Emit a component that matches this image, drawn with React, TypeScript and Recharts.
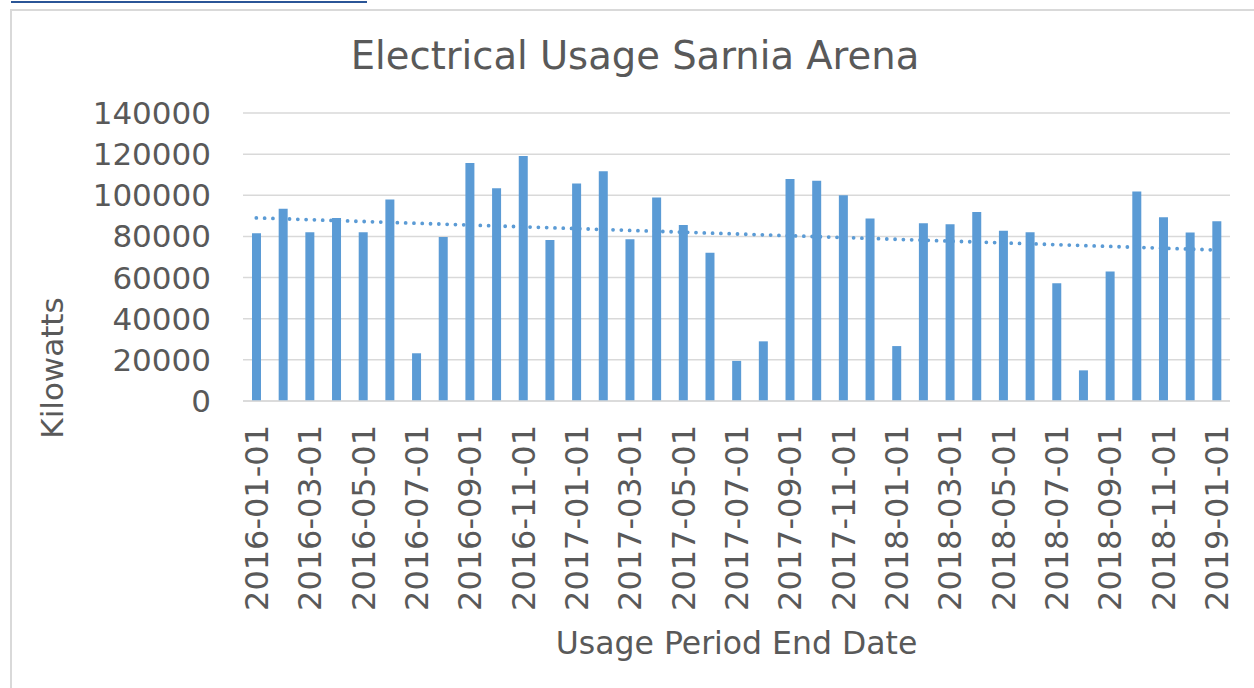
import React from 'react';
import { Bar, CartesianGrid, ComposedChart, Line, XAxis, YAxis } from 'recharts';

// month-end usage periods
const periods = [
  '2016-01-01', '2016-02-01', '2016-03-01', '2016-04-01', '2016-05-01', '2016-06-01',
  '2016-07-01', '2016-08-01', '2016-09-01', '2016-10-01', '2016-11-01', '2016-12-01',
  '2017-01-01', '2017-02-01', '2017-03-01', '2017-04-01', '2017-05-01', '2017-06-01',
  '2017-07-01', '2017-08-01', '2017-09-01', '2017-10-01', '2017-11-01', '2017-12-01',
  '2018-01-01', '2018-02-01', '2018-03-01', '2018-04-01', '2018-05-01', '2018-06-01',
  '2018-07-01', '2018-08-01', '2018-09-01', '2018-10-01', '2018-11-01', '2018-12-01',
  '2019-01-01',
];

// kilowatts per period
const usage = [
  81500, 93500, 82000, 89000, 82000, 98000, 23200, 79700, 115700, 103400, 119100, 78300,
  105700, 111700, 78600, 98900, 85600, 72100, 19500, 29000, 107900, 107100, 100000, 88700,
  26700, 86400, 85900, 91900, 82800, 82000, 57200, 14900, 62900, 101900, 89300, 81900,
  87400,
];

// linear trendline end points
const trendStart = 89000;
const trendEnd = 73400;

const yTicks = [0, 20000, 40000, 60000, 80000, 100000, 120000, 140000];

const BLUE = '#5B9BD5';
const TEXT = '#595959';
const GRID = '#d9d9d9';
const FONT = '"DejaVu Sans", Verdana, sans-serif';

const data = periods.map((p, i) => ({
  period: p,
  usage: usage[i],
  trend: i === 0 ? trendStart : i === periods.length - 1 ? trendEnd : null,
}));

function DateTick({ x, y, payload }: any) {
  return (
    <text
      x={0}
      y={0}
      transform={`translate(${x},${y}) rotate(-90)`}
      textAnchor="end"
      dy="0.36em"
      fill={TEXT}
      fontSize={32}
      fontFamily={FONT}
    >
      {payload.value}
    </text>
  );
}

export default function App() {
  return (
    <div style={{ position: 'absolute', left: 0, top: 0, width: 1254, height: 688, background: '#fff', fontFamily: FONT }}>
      {/* cut-off link above the chart */}
      <div style={{ position: 'absolute', left: 11, top: 1, width: 356, height: 2, background: '#2a5597' }} />
      {/* chart frame */}
      <div style={{ position: 'absolute', left: 10, top: 9, width: 1244, height: 679, borderLeft: `2px solid ${GRID}`, borderTop: `2px solid ${GRID}` }} />

      <div style={{ position: 'absolute', left: 0, top: 0 }}>
        <ComposedChart
          width={1254}
          height={688}
          data={data}
          margin={{ top: 113, right: 24, bottom: 0, left: 0 }}
          barCategoryGap={0}
        >
          <CartesianGrid vertical={false} stroke={GRID} strokeWidth={1.5} />
          <XAxis
            dataKey="period"
            interval={1}
            height={287}
            tickSize={0}
            tickMargin={24}
            axisLine={{ stroke: GRID, strokeWidth: 1.5 }}
            tickLine={false}
            tick={<DateTick />}
          />
          <YAxis
            domain={[0, 140000]}
            ticks={yTicks}
            width={243}
            tickSize={0}
            tickMargin={32}
            axisLine={false}
            tickLine={false}
            tick={{ fontSize: 31, fill: TEXT, fontFamily: FONT }}
          />
          <Bar dataKey="usage" fill={BLUE} barSize={9} isAnimationActive={false} />
          <Line
            dataKey="trend"
            stroke={BLUE}
            strokeWidth={3.8}
            strokeDasharray="0 8.3"
            strokeLinecap="round"
            dot={false}
            activeDot={false}
            connectNulls
            isAnimationActive={false}
          />
        </ComposedChart>
      </div>

      <div style={{ position: 'absolute', left: 0, width: 1270, top: 37, textAlign: 'center', fontSize: 38.5, lineHeight: '38px', color: TEXT }}>
        Electrical Usage Sarnia Arena
      </div>
      <div style={{ position: 'absolute', left: 243, width: 987, top: 627, textAlign: 'center', fontSize: 31.5, lineHeight: '32px', color: TEXT }}>
        Usage Period End Date
      </div>
      <div
        style={{
          position: 'absolute',
          left: 52 - 110,
          top: 368 - 16,
          width: 220,
          height: 32,
          lineHeight: '32px',
          textAlign: 'center',
          fontSize: 31,
          color: TEXT,
          transform: 'rotate(-90deg)',
        }}
      >
        Kilowatts
      </div>
    </div>
  );
}
